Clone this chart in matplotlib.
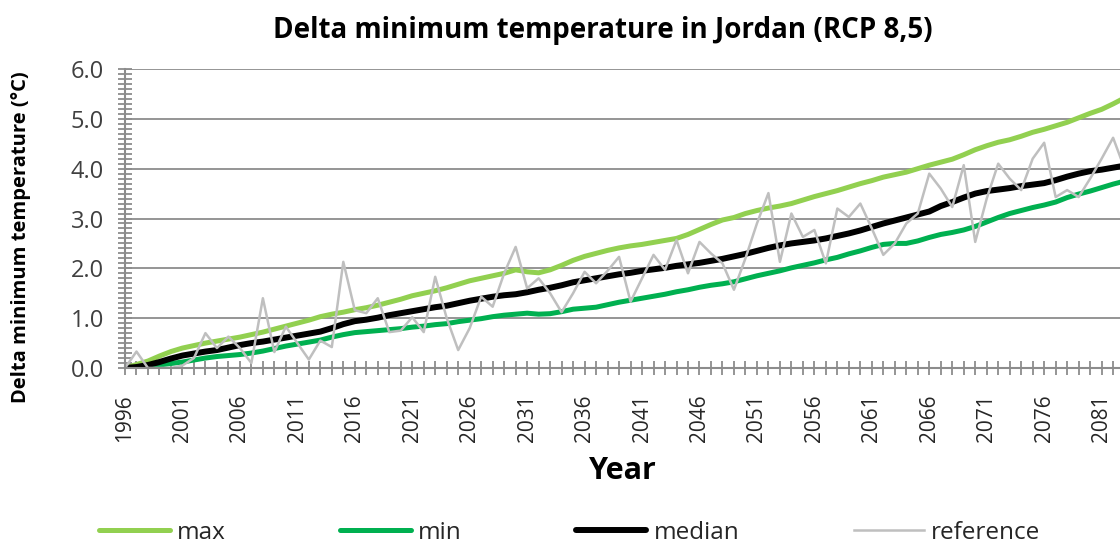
import matplotlib
matplotlib.use("Agg")
import matplotlib.pyplot as plt
from matplotlib.ticker import MultipleLocator, FormatStrFormatter
import numpy as np

# data (one value per year)
years = list(range(1996, 2084))

max_vals = [0.00, 0.07, 0.14, 0.24, 0.33, 0.40, 0.45, 0.50, 0.54, 0.58,
            0.62, 0.67, 0.72, 0.78, 0.84, 0.90, 0.96, 1.03, 1.08, 1.12,
            1.17, 1.21, 1.26, 1.32, 1.38, 1.45, 1.50, 1.55, 1.61, 1.68,
            1.75, 1.80, 1.85, 1.90, 1.97, 1.93, 1.91, 1.97, 2.06, 2.16,
            2.24, 2.30, 2.36, 2.41, 2.45, 2.48, 2.52, 2.56, 2.60, 2.68,
            2.78, 2.88, 2.97, 3.02, 3.10, 3.16, 3.21, 3.25, 3.30, 3.37,
            3.44, 3.50, 3.56, 3.63, 3.70, 3.76, 3.83, 3.88, 3.93, 4.00,
            4.07, 4.13, 4.19, 4.28, 4.38, 4.46, 4.53, 4.58, 4.65, 4.73,
            4.79, 4.86, 4.93, 5.02, 5.11, 5.19, 5.30, 5.42]

min_vals = [0.00, 0.00, 0.03, 0.06, 0.09, 0.12, 0.16, 0.20, 0.23, 0.25,
            0.27, 0.30, 0.34, 0.39, 0.44, 0.48, 0.52, 0.56, 0.62, 0.67,
            0.71, 0.73, 0.75, 0.77, 0.79, 0.82, 0.84, 0.87, 0.89, 0.93,
            0.96, 0.99, 1.03, 1.06, 1.08, 1.10, 1.08, 1.09, 1.13, 1.18,
            1.20, 1.22, 1.27, 1.32, 1.36, 1.40, 1.44, 1.48, 1.53, 1.57,
            1.62, 1.66, 1.69, 1.73, 1.79, 1.85, 1.90, 1.95, 2.01, 2.06,
            2.11, 2.17, 2.22, 2.29, 2.35, 2.42, 2.48, 2.50, 2.50, 2.55,
            2.62, 2.68, 2.72, 2.77, 2.84, 2.93, 3.02, 3.10, 3.16, 3.22,
            3.27, 3.33, 3.42, 3.49, 3.55, 3.62, 3.69, 3.75]

median_vals = [0.00, 0.02, 0.06, 0.12, 0.19, 0.25, 0.29, 0.33, 0.36, 0.41,
               0.46, 0.50, 0.53, 0.57, 0.61, 0.65, 0.69, 0.73, 0.80, 0.88,
               0.94, 0.97, 1.01, 1.06, 1.10, 1.14, 1.18, 1.22, 1.25, 1.30,
               1.35, 1.39, 1.43, 1.46, 1.48, 1.52, 1.57, 1.61, 1.66, 1.72,
               1.76, 1.80, 1.84, 1.88, 1.91, 1.95, 1.98, 2.01, 2.05, 2.08,
               2.11, 2.15, 2.19, 2.24, 2.29, 2.35, 2.41, 2.46, 2.50, 2.53,
               2.56, 2.60, 2.65, 2.70, 2.76, 2.83, 2.90, 2.96, 3.02, 3.08,
               3.14, 3.25, 3.33, 3.42, 3.50, 3.55, 3.58, 3.61, 3.65, 3.68,
               3.71, 3.77, 3.84, 3.90, 3.95, 3.98, 4.02, 4.06]

reference_vals = [0.00, 0.33, 0.00, 0.00, 0.00, 0.05, 0.20, 0.70, 0.40, 0.63,
                  0.40, 0.10, 1.40, 0.32, 0.83, 0.50, 0.17, 0.55, 0.42, 2.13,
                  1.16, 1.10, 1.40, 0.72, 0.75, 1.02, 0.72, 1.83, 1.00, 0.36,
                  0.80, 1.43, 1.23, 1.90, 2.43, 1.60, 1.80, 1.50, 1.12, 1.50,
                  1.93, 1.70, 1.95, 2.23, 1.33, 1.80, 2.27, 1.97, 2.57, 1.90,
                  2.53, 2.30, 2.10, 1.57, 2.20, 2.90, 3.51, 2.13, 3.10, 2.63,
                  2.77, 2.10, 3.20, 3.03, 3.30, 2.80, 2.27, 2.50, 2.90, 3.10,
                  3.90, 3.60, 3.23, 4.07, 2.53, 3.40, 4.10, 3.80, 3.57, 4.20,
                  4.52, 3.43, 3.57, 3.43, 3.80, 4.20, 4.62, 4.00]

plt.rcParams['font.family'] = ['Open Sans', 'DejaVu Sans']

fig = plt.figure(figsize=(11.2, 5.46), dpi=100)
ax = fig.add_axes([125/1120, 1 - 368/546, 1 - 125/1120, (368 - 69)/546])

ax.plot(years, max_vals, color="#92D050", lw=3.6, label="max", solid_capstyle="round")
ax.plot(years, min_vals, color="#00B050", lw=3.6, label="min", solid_capstyle="round")
ax.plot(years, median_vals, color="black", lw=4.3, label="median", solid_capstyle="round")
ax.plot(years, reference_vals, color="#BFBFBF", lw=1.8, label="reference")

ax.set_xlim(1996, 2082.6)
ax.set_ylim(0, 6)
ax.xaxis.set_major_locator(MultipleLocator(5, offset=1))
ax.xaxis.set_minor_locator(MultipleLocator(1))
ax.yaxis.set_major_locator(MultipleLocator(1))
ax.yaxis.set_minor_locator(MultipleLocator(0.1))
ax.yaxis.set_major_formatter(FormatStrFormatter("%.1f"))

ax.grid(axis="y", color="#8C8C8C", lw=1.3)
ax.set_axisbelow(True)
for s in ["top", "right"]:
    ax.spines[s].set_visible(False)
for s in ["left", "bottom"]:
    ax.spines[s].set_color("#8C8C8C")
    ax.spines[s].set_linewidth(1.5)

ax.tick_params(which="both", direction="inout", color="#8C8C8C", width=1.3, length=10)
ax.tick_params(axis="y", labelsize=17, labelcolor="#404040", pad=10)
ax.tick_params(axis="x", labelsize=15, labelcolor="#262626", labelrotation=90, pad=14)

fig.text(0.538, 0.945, "Delta minimum temperature in Jordan (RCP 8,5)",
         ha="center", va="center", fontsize=20, fontweight="bold")
fig.text(0.556, 0.138, "Year", ha="center", va="center", fontsize=22, fontweight="bold")
fig.text(0.019, 0.566, "Delta minimum temperature (°C)", ha="center", va="center",
         rotation=90, fontsize=14.5, fontweight="bold")

fig.legend(loc="center left", bbox_to_anchor=(0.069, 0.024), ncol=4, frameon=False,
           fontsize=17.5, handlelength=2.9, handletextpad=0.3, columnspacing=4.7,
           labelcolor="#262626")

fig.savefig("out.png", dpi=100)
